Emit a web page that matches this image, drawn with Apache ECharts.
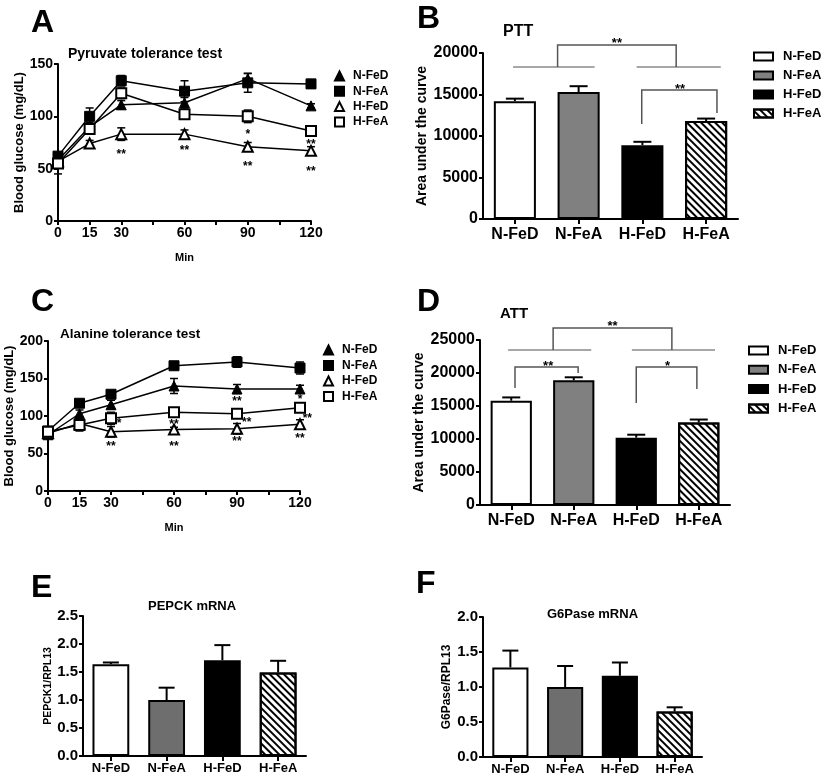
<!DOCTYPE html>
<html><head><meta charset="utf-8">
<script src="https://cdn.jsdelivr.net/npm/echarts@6/dist/echarts.min.js"></script>
<style>html,body{margin:0;padding:0;background:#fff}#c{width:825px;height:778px}</style>
</head><body><div id="c"></div>
<script>
const FONT = 'Liberation Sans, Arial, sans-serif';

// ---- shared ----
const timePoints = [0, 15, 30, 60, 90, 120];
const timeTickLabels = [0, 15, 30, 60, 90, 120];
const groups = ['N-FeD', 'N-FeA', 'H-FeD', 'H-FeA'];

// ---- Panel A: Pyruvate tolerance test (mg/dL) ----
const pttNFeD = [58, 90, 111, 113, 136, 110];
const pttNFeDErr = [3, 4, 4, 5, 5, 2];
const pttNFeA = [62, 100, 134, 124, 132, 131];
const pttNFeAErr = [3, 8, 5, 10, 9, 4];
const pttHFeD = [57, 74, 83, 83, 71, 67];
const pttHFeDErr = [4, 3, 6, 4, 4, 4];
const pttHFeA = [55, 88, 122, 102, 100, 86];
const pttHFeAErr = [10, 5, 5, 3, 6, 4];
const pttStars = [[30, 66, '**'], [60, 70, '**'], [90, 85, '*'], [90, 55, '**'], [120, 76, '**'], [120, 50, '**']];

// ---- Panel B: PTT AUC ----
const pttAuc = [14200, 15300, 8900, 11800];
const pttAucErr = [300, 700, 400, 300];
const pttGroupLines = [[-0.03, 1.25, 18300, 18300, 18300], [1.91, 3.23, 18300, 18300, 18300]];
const pttBrackets = [[0.67, 2.53, 20960, 18300, 18300], [1.99, 3.17, 15540, 11450, 12770]];
const pttAucStars = [[1.6, 21480, '**'], [2.59, 15940, '**']];

// ---- Panel C: Alanine tolerance test (mg/dL) ----
const attNFeD = [75, 103, 115, 140, 136, 136];
const attNFeDErr = [3, 5, 6, 10, 6, 5];
const attNFeA = [80, 117, 129, 167, 172, 164];
const attNFeAErr = [3, 4, 4, 3, 7, 8];
const attHFeD = [77, 90, 79, 82, 83, 89];
const attHFeDErr = [4, 8, 7, 3, 7, 6];
const attHFeA = [79, 88, 97, 105, 103, 111];
const attHFeAErr = [4, 8, 8, 6, 3, 6];
const attStars = [[33.8, 94, '*'], [30, 63.6, '**'], [60, 92.4, '**'], [60, 63.6, '**'], [90, 122.7, '**'], [94.6, 94.7, '**'], [90, 69.3, '**'], [120, 125.8, '*'], [123.5, 100, '**'], [120, 73.3, '**']];

// ---- Panel D: ATT AUC ----
const attAuc = [15800, 18900, 10200, 12500];
const attAucErr = [500, 450, 450, 450];
const attGroupLines = [[-0.05, 1.28, 23480, 23480, 23480], [1.93, 3.26, 23480, 23480, 23480]];
const attBrackets = [[0.67, 2.57, 26820, 23480, 23480], [0.06, 1.07, 20910, 17730, 20000], [2.0, 2.97, 20910, 15450, 17580]];
const attAucStars = [[1.62, 27530, '**'], [0.59, 21470, '**'], [2.5, 21470, '*']];

// ---- Panel E: PEPCK mRNA ----
const pepck = [1.64, 1.0, 1.71, 1.49];
const pepckErr = [0.03, 0.22, 0.27, 0.21];

// ---- Panel F: G6Pase mRNA ----
const g6pase = [1.28, 1.0, 1.16, 0.65];
const g6paseErr = [0.24, 0.30, 0.19, 0.06];

// ================= styling helpers =================
const txt = (size, extra) => Object.assign({fontFamily: FONT, fontWeight: 'bold', fontSize: size, color: '#000'}, extra || {});
const axisLine = {show: true, onZero: false, lineStyle: {color: '#000', width: 2}};
const axisTick = (len) => ({show: true, length: len, lineStyle: {color: '#000', width: 2}});

const lineSymStyles = [
  {symbol: 'triangle', itemStyle: {color: '#000', borderColor: '#000', borderWidth: 1}},
  {symbol: 'rect', itemStyle: {color: '#000', borderColor: '#000', borderWidth: 1}},
  {symbol: 'triangle', itemStyle: {color: '#fff', borderColor: '#000', borderWidth: 2}},
  {symbol: 'rect', itemStyle: {color: '#fff', borderColor: '#000', borderWidth: 2}}
];
function barStyles(gray) {
  return [
    {color: '#fff', borderColor: '#000', borderWidth: 2},
    {color: gray, borderColor: '#000', borderWidth: 2},
    {color: '#000', borderColor: '#000', borderWidth: 2},
    {color: '#fff', borderColor: '#000', borderWidth: 2,
     decal: {symbol: 'rect', symbolSize: 1, dashArrayX: [1, 0], dashArrayY: [2, 3], rotation: Math.PI / 4, color: '#000', backgroundColor: 'rgba(0,0,0,0)'}}
  ];
}

function lineSeries(panel, ai, valsList) {
  return valsList.map((vals, k) => ({
    name: panel + '|' + groups[k], type: 'line', xAxisIndex: ai, yAxisIndex: ai,
    symbol: lineSymStyles[k].symbol, symbolSize: 10, showSymbol: true, z: 3 + k,
    itemStyle: lineSymStyles[k].itemStyle,
    lineStyle: {color: '#000', width: 1.5},
    data: timePoints.map((t, i) => [t, vals[i]])
  }));
}
function lineErrSeries(ai, vals, errs) {
  return {
    type: 'custom', xAxisIndex: ai, yAxisIndex: ai, z: 2, silent: true,
    data: timePoints.map((t, i) => [t, vals[i], errs[i]]),
    renderItem(params, api) {
      const x = api.value(0), y = api.value(1), e = api.value(2);
      const top = api.coord([x, y + e]), bot = api.coord([x, y - e]);
      const w = 4, st = {stroke: '#000', lineWidth: 1.5};
      return {type: 'group', children: [
        {type: 'line', shape: {x1: top[0], y1: top[1], x2: bot[0], y2: bot[1]}, style: st},
        {type: 'line', shape: {x1: top[0] - w, y1: top[1], x2: top[0] + w, y2: top[1]}, style: st},
        {type: 'line', shape: {x1: bot[0] - w, y1: bot[1], x2: bot[0] + w, y2: bot[1]}, style: st}
      ]};
    }
  };
}
function barSeries(panel, ai, vals, gray) {
  const st = barStyles(gray);
  return groups.map((g, k) => ({
    name: panel + '|' + g, type: 'bar', xAxisIndex: ai, yAxisIndex: ai,
    barWidth: '66%', barGap: '-100%', z: 2,
    itemStyle: st[k],
    data: vals.map((v, j) => (j === k ? v : '-'))
  }));
}
function barErrSeries(ai, vals, errs, cap) {
  return {
    type: 'custom', xAxisIndex: ai, yAxisIndex: ai, z: 1, silent: true,
    data: vals.map((v, i) => [i, v, errs[i]]),
    renderItem(params, api) {
      const i = api.value(0), v = api.value(1), e = api.value(2);
      const base = api.coord([i, v]), top = api.coord([i, v + e]);
      const st = {stroke: '#000', lineWidth: 2};
      return {type: 'group', children: [
        {type: 'line', shape: {x1: base[0], y1: base[1], x2: top[0], y2: top[1]}, style: st},
        {type: 'line', shape: {x1: top[0] - cap, y1: top[1], x2: top[0] + cap, y2: top[1]}, style: st}
      ]};
    }
  };
}
function bracketSeries(xi, yi, rows, color) {
  return {
    type: 'custom', xAxisIndex: xi, yAxisIndex: yi, z: 5, silent: true,
    data: rows,
    renderItem(params, api) {
      const x1 = api.value(0), x2 = api.value(1), yT = api.value(2), yL = api.value(3), yR = api.value(4);
      const pts = [api.coord([x1, yL]), api.coord([x1, yT]), api.coord([x2, yT]), api.coord([x2, yR])];
      return {type: 'polyline', shape: {points: pts}, style: {stroke: color, lineWidth: 1.5, fill: null}};
    }
  };
}
function starSeries(xi, yi, rows, size) {
  return {
    type: 'custom', xAxisIndex: xi, yAxisIndex: yi, z: 6, silent: true,
    data: rows.map(r => [r[0], r[1]]),
    renderItem(params, api) {
      const p = api.coord([api.value(0), api.value(1)]);
      return {type: 'text', x: p[0], y: p[1] + 3,
        style: {text: rows[params.dataIndex][2], fill: '#000', font: 'bold ' + size + 'px ' + FONT, align: 'center', verticalAlign: 'middle'}};
    }
  };
}
function lineLegend(panel, left, top, gap) {
  return {
    orient: 'vertical', left: left, top: top, padding: 0, itemWidth: 9, itemHeight: 9, itemGap: gap, selectedMode: false,
    data: groups.map((g, k) => ({name: panel + '|' + g, icon: lineSymStyles[k].symbol})),
    formatter: n => n.split('|')[1],
    textStyle: txt(12, {padding: [0, 0, 0, 4]})
  };
}
function barLegend(panel, left, top, gap) {
  return {
    orient: 'vertical', left: left, top: top, padding: 0, itemWidth: 19, itemHeight: 8, itemGap: gap, selectedMode: false,
    data: groups.map(g => ({name: panel + '|' + g, icon: 'rect'})),
    formatter: n => n.split('|')[1],
    textStyle: txt(13, {padding: [0, 0, 0, 5]})
  };
}
function timeAxis(gi) {
  return {
    type: 'value', gridIndex: gi, min: 0, max: 120, interval: 15,
    name: 'Min', nameLocation: 'middle', nameGap: 31, nameTextStyle: txt(11),
    axisLine: axisLine, axisTick: axisTick(4), splitLine: {show: false},
    axisLabel: txt(14, {margin: 5, formatter: v => (timeTickLabels.indexOf(v) >= 0 ? String(v) : '')})
  };
}
function catAxis(gi, size, margin) {
  return {
    type: 'category', gridIndex: gi, data: groups,
    axisLine: axisLine, axisTick: Object.assign(axisTick(5), {alignWithLabel: true}),
    axisLabel: txt(size, {margin: margin, interval: 0})
  };
}
function valAxis(gi, max, interval, name, nameSize, nameGap, labelSize, fmt) {
  return {
    type: 'value', gridIndex: gi, min: 0, max: max, interval: interval,
    name: name, nameLocation: 'middle', nameGap: nameGap, nameTextStyle: txt(nameSize),
    axisLine: axisLine, axisTick: axisTick(4), splitLine: {show: false},
    axisLabel: txt(labelSize, {margin: 5, formatter: fmt || (v => String(v))})
  };
}
function annotAxis(gi) {
  return {type: 'value', gridIndex: gi, min: -0.5, max: 3.5, show: false, axisLine: {onZero: false}};
}

const chart = echarts.init(document.getElementById('c'), null, {renderer: 'canvas'});
chart.setOption({
  animation: false,
  backgroundColor: '#fff',
  title: [
    {text: 'A', left: 26, top: 2, textStyle: txt(32)},
    {text: 'B', left: 412, top: -2, textStyle: txt(32)},
    {text: 'C', left: 26, top: 281, textStyle: txt(32)},
    {text: 'D', left: 412, top: 281, textStyle: txt(32)},
    {text: 'E', left: 26, top: 567, textStyle: txt(32)},
    {text: 'F', left: 411, top: 563, textStyle: txt(32)},
    {text: 'Pyruvate tolerance test', left: 63, top: 42, textStyle: txt(14)},
    {text: 'PTT', left: 498, top: 19, textStyle: txt(16)},
    {text: 'Alanine tolerance test', left: 55, top: 322, textStyle: txt(13.5)},
    {text: 'ATT', left: 495, top: 301, textStyle: txt(15)},
    {text: 'PEPCK mRNA', left: 143, top: 595, textStyle: txt(13)},
    {text: 'G6Pase mRNA', left: 542, top: 603, textStyle: txt(13)}
  ],
  legend: [
    lineLegend('A', 334, 70, 3.3),
    barLegend('B', 753, 50, 6),
    lineLegend('C', 323, 344, 3.5),
    barLegend('D', 748, 344, 6.3)
  ],
  grid: [
    {left: 58, top: 64, width: 253, height: 157},
    {left: 483, top: 53, width: 255, height: 166},
    {left: 48, top: 341, width: 252, height: 150},
    {left: 480, top: 340, width: 250, height: 165},
    {left: 83, top: 616, width: 223, height: 140},
    {left: 483, top: 617, width: 219, height: 140}
  ],
  xAxis: [
    timeAxis(0),
    catAxis(1, 16, 8),
    timeAxis(2),
    catAxis(3, 16, 8),
    catAxis(4, 13, 6),
    catAxis(5, 13, 6),
    annotAxis(1),
    annotAxis(3)
  ],
  yAxis: [
    valAxis(0, 150, 50, 'Blood glucose (mg/dL)', 13, 31, 14),
    valAxis(1, 20000, 5000, 'Area under the curve', 14, 45, 16),
    valAxis(2, 200, 50, 'Blood glucose (mg/dL)', 13, 24, 14),
    valAxis(3, 25000, 5000, 'Area under the curve', 14, 37, 16),
    valAxis(4, 2.5, 0.5, 'PEPCK1/RPL13', 10.5, 29, 15, v => v.toFixed(1)),
    valAxis(5, 2.0, 0.5, 'G6Pase/RPL13', 12, 30, 15, v => v.toFixed(1))
  ],
  series: [].concat(
    // A
    lineErrSeries(0, pttNFeD, pttNFeDErr), lineErrSeries(0, pttNFeA, pttNFeAErr),
    lineErrSeries(0, pttHFeD, pttHFeDErr), lineErrSeries(0, pttHFeA, pttHFeAErr),
    lineSeries('A', 0, [pttNFeD, pttNFeA, pttHFeD, pttHFeA]),
    starSeries(0, 0, pttStars, 12),
    // B
    barErrSeries(1, pttAuc, pttAucErr, 9),
    barSeries('B', 1, pttAuc, '#808080'),
    bracketSeries(6, 1, pttGroupLines, '#8a8a8a'),
    bracketSeries(6, 1, pttBrackets, '#555'),
    starSeries(6, 1, pttAucStars, 13),
    // C
    lineErrSeries(2, attNFeD, attNFeDErr), lineErrSeries(2, attNFeA, attNFeAErr),
    lineErrSeries(2, attHFeD, attHFeDErr), lineErrSeries(2, attHFeA, attHFeAErr),
    lineSeries('C', 2, [attNFeD, attNFeA, attHFeD, attHFeA]),
    starSeries(2, 2, attStars, 12),
    // D
    barErrSeries(3, attAuc, attAucErr, 9),
    barSeries('D', 3, attAuc, '#808080'),
    bracketSeries(7, 3, attGroupLines, '#8a8a8a'),
    bracketSeries(7, 3, attBrackets, '#555'),
    starSeries(7, 3, attAucStars, 13),
    // E
    barErrSeries(4, pepck, pepckErr, 8),
    barSeries('E', 4, pepck, '#6e6e6e'),
    // F
    barErrSeries(5, g6pase, g6paseErr, 8),
    barSeries('F', 5, g6pase, '#6e6e6e')
  )
});
</script>
</body></html>
